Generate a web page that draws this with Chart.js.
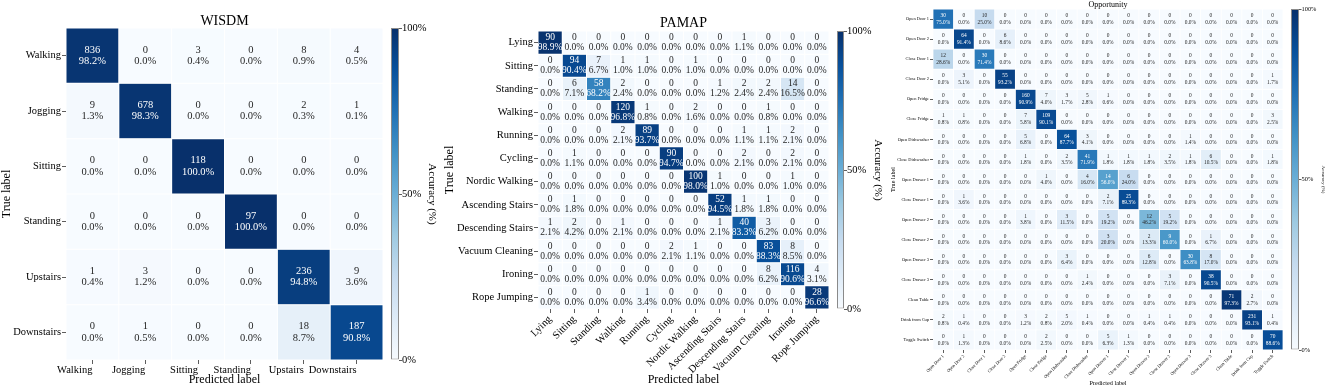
<!DOCTYPE html>
<html>
<head>
<meta charset="utf-8">
<script src="https://cdn.jsdelivr.net/npm/chart.js@4.4.1/dist/chart.umd.min.js"></script>
<style>
  body { margin: 0; background: #fff; width: 1328px; height: 387px; overflow: hidden; position: relative; }
  canvas { position: absolute; top: 0; }
</style>
</head>
<body>
<canvas id="wisdm" width="386" height="387" style="left:0px"></canvas>
<canvas id="wisdmBar" width="54" height="387" style="left:386px"></canvas>
<canvas id="pamap" width="395" height="387" style="left:440px"></canvas>
<canvas id="pamapBar" width="49" height="387" style="left:835px"></canvas>
<canvas id="opp" width="408" height="387" style="left:880px"></canvas>
<canvas id="oppBar" width="40" height="387" style="left:1288px"></canvas>
<script>
// ---- data (confusion matrices, rows = true label, cols = predicted) ----
const wisdmLabels = ["Walking", "Jogging", "Sitting", "Standing", "Upstairs", "Downstairs"];
const wisdmCounts = [
  [836, 0, 3, 0, 8, 4],
  [9, 678, 0, 0, 2, 1],
  [0, 0, 118, 0, 0, 0],
  [0, 0, 0, 97, 0, 0],
  [1, 3, 0, 0, 236, 9],
  [0, 1, 0, 0, 18, 187]
];

const pamapLabels = ["Lying", "Sitting", "Standing", "Walking", "Running", "Cycling", "Nordic Walking",
  "Ascending Stairs", "Descending Stairs", "Vacuum Cleaning", "Ironing", "Rope Jumping"];
const pamapCounts = [
  [90, 0, 0, 0, 0, 0, 0, 0, 1, 0, 0, 0],
  [0, 94, 7, 1, 1, 0, 1, 0, 0, 0, 0, 0],
  [0, 6, 58, 2, 0, 0, 0, 1, 2, 2, 14, 0],
  [0, 0, 0, 120, 1, 0, 2, 0, 0, 1, 0, 0],
  [0, 0, 0, 2, 89, 0, 0, 0, 1, 1, 2, 0],
  [0, 1, 0, 0, 0, 90, 0, 0, 2, 0, 2, 0],
  [0, 0, 0, 0, 0, 0, 100, 1, 0, 0, 1, 0],
  [0, 1, 0, 0, 0, 0, 0, 52, 1, 1, 0, 0],
  [1, 2, 0, 1, 0, 0, 0, 1, 40, 3, 0, 0],
  [0, 0, 0, 0, 0, 2, 1, 0, 0, 83, 8, 0],
  [0, 0, 0, 0, 0, 0, 0, 0, 0, 8, 116, 4],
  [0, 0, 0, 0, 1, 0, 0, 0, 0, 0, 0, 28]
];

const oppLabels = ["Open Door 1", "Open Door 2", "Close Door 1", "Close Door 2", "Open Fridge", "Close Fridge",
  "Open Dishwasher", "Close Dishwasher", "Open Drawer 1", "Close Drawer 1", "Open Drawer 2", "Close Drawer 2",
  "Open Drawer 3", "Close Drawer 3", "Clean Table", "Drink from Cup", "Toggle Switch"];
const oppCounts = [
  [30, 0, 10, 0, 0, 0, 0, 0, 0, 0, 0, 0, 0, 0, 0, 0, 0],
  [0, 64, 0, 6, 0, 0, 0, 0, 0, 0, 0, 0, 0, 0, 0, 0, 0],
  [12, 0, 30, 0, 0, 0, 0, 0, 0, 0, 0, 0, 0, 0, 0, 0, 0],
  [0, 3, 0, 55, 0, 0, 0, 0, 0, 0, 0, 0, 0, 0, 0, 0, 1],
  [0, 0, 0, 0, 160, 7, 3, 5, 1, 0, 0, 0, 0, 0, 0, 0, 0],
  [1, 1, 0, 0, 7, 109, 0, 0, 0, 0, 0, 0, 0, 0, 0, 0, 3],
  [0, 0, 0, 0, 5, 0, 64, 3, 0, 0, 0, 0, 1, 0, 0, 0, 0],
  [0, 0, 0, 0, 1, 0, 2, 41, 1, 1, 1, 2, 1, 6, 0, 0, 1],
  [0, 0, 0, 0, 0, 1, 0, 4, 14, 6, 0, 0, 0, 0, 0, 0, 0],
  [0, 1, 0, 0, 0, 0, 0, 0, 2, 25, 0, 0, 0, 0, 0, 0, 0],
  [0, 0, 0, 0, 1, 0, 3, 0, 5, 0, 12, 5, 0, 0, 0, 0, 0],
  [0, 0, 0, 0, 0, 0, 0, 0, 3, 0, 2, 9, 0, 1, 0, 0, 0],
  [0, 0, 0, 0, 0, 0, 3, 0, 0, 0, 6, 0, 30, 8, 0, 0, 0],
  [0, 0, 0, 0, 0, 0, 0, 1, 0, 0, 0, 3, 0, 38, 0, 0, 0],
  [0, 0, 0, 0, 0, 0, 0, 0, 0, 0, 0, 0, 0, 0, 71, 2, 0],
  [2, 1, 0, 0, 3, 2, 5, 1, 0, 0, 1, 1, 0, 0, 0, 231, 1],
  [0, 1, 0, 0, 0, 2, 0, 0, 5, 1, 0, 0, 0, 0, 0, 0, 70]
];

const colorbarTicks = [0, 50, 100];

// ---- helpers ----
const FONT = "'Liberation Serif', 'Times New Roman', serif";
Chart.defaults.font.family = FONT;
Chart.defaults.color = "#000";

// matplotlib "Blues"
const bluesStops = [[247,251,255],[222,235,247],[198,219,239],[158,202,225],[107,174,214],
  [66,146,198],[33,113,181],[8,81,156],[8,48,107]];
function bluesRGB(t) {
  t = Math.max(0, Math.min(1, t));
  const s = t * 8, i = Math.min(7, Math.floor(s)), f = s - i;
  const a = bluesStops[i], b = bluesStops[i + 1];
  return [0, 1, 2].map(k => a[k] + (b[k] - a[k]) * f);
}
function rgb(c) { return `rgb(${c.map(Math.round).join(",")})`; }

// seaborn picks the annotation colour from the cell luminance
function textColor(c) {
  const lin = c.map(v => { v /= 255; return v <= 0.03928 ? v / 12.92 : Math.pow((v + 0.055) / 1.055, 2.4); });
  const l = 0.2126 * lin[0] + 0.7152 * lin[1] + 0.0722 * lin[2];
  return l > 0.408 ? "rgb(38,38,38)" : "#fff";
}

// python style '.1%' (half to even on exact ties)
function pctText(count, total) {
  const x = count * 1000 / total;
  const f = Math.floor(x);
  let n = x - f === 0.5 ? (f % 2 === 0 ? f : f + 1) : Math.round(x);
  return (n / 10).toFixed(1) + "%";
}

const annotate = {
  id: "annotate",
  afterDatasetsDraw(chart, args, opts) {
    const ctx = chart.ctx;
    ctx.save();
    ctx.font = `${opts.size}px ${FONT}`;
    ctx.textAlign = "center";
    ctx.textBaseline = "middle";
    chart.data.datasets.forEach((ds, i) => {
      chart.getDatasetMeta(i).data.forEach((bar, j) => {
        const p = bar.getCenterPoint();
        ctx.fillStyle = ds.textColors[j];
        ctx.fillText(String(ds.counts[j]), p.x, p.y - opts.gap);
        ctx.fillText(ds.pcts[j], p.x, p.y + opts.gap);
      });
    });
    ctx.restore();
  }
};

function heatmap(id, title, labels, counts, s) {
  const n = labels.length;
  const datasets = counts.map((row, i) => {
    const total = row.reduce((a, b) => a + b, 0);
    const cols = row.map(v => bluesRGB(v / total));
    return {
      label: labels[i],
      data: labels.map(() => 1),
      counts: row,
      pcts: row.map(v => pctText(v, total)),
      textColors: cols.map(textColor),
      backgroundColor: cols.map(rgb),
      borderColor: "rgba(255,255,255,0.9)",
      borderWidth: s.line,
      borderSkipped: false,
      inflateAmount: 0,
      barPercentage: 1,
      categoryPercentage: 1
    };
  });

  new Chart(document.getElementById(id), {
    type: "bar",
    data: { labels: labels, datasets: datasets },
    options: {
      responsive: false,
      animation: false,
      devicePixelRatio: 1,
      events: [],
      layout: { autoPadding: false, padding: { left: 0, right: s.padRight, top: 0, bottom: 0 } },
      plugins: {
        legend: { display: false },
        tooltip: { enabled: false },
        title: {
          display: true, text: title, fullSize: false, color: "#000",
          font: { size: s.titleSize, weight: "normal", lineHeight: 1 },
          padding: { top: s.titleTop, bottom: s.titleBottom }
        },
        annotate: { size: s.cellFont, gap: s.gap }
      },
      scales: {
        x: {
          stacked: true,
          border: { display: false },
          grid: { offset: false, drawOnChartArea: false, tickLength: s.tick, tickWidth: 0.8, tickColor: "#333" },
          ticks: { autoSkip: false, minRotation: s.rot, maxRotation: s.rot, padding: s.tickPad,
            align: s.rot ? "center" : "end",
            font: { size: s.tickFont, lineHeight: 1 }, color: "#000" },
          title: { display: true, text: "Predicted label", color: "#000",
            font: { size: s.labelFont, lineHeight: 1.2 }, padding: { top: 0, bottom: 0 } },
          afterFit(axis) { axis.height = s.xh; }
        },
        y: {
          type: "linear",
          stacked: true,
          reverse: true,
          min: 0,
          max: n,
          border: { display: false },
          grid: { drawOnChartArea: false, tickLength: s.tick, tickWidth: 0.8, tickColor: "#333" },
          afterBuildTicks(axis) { axis.ticks = labels.map((_, i) => ({ value: i + 0.5 })); },
          ticks: { autoSkip: false, padding: s.tickPad, font: { size: s.tickFont, lineHeight: 1 }, color: "#000",
            callback: (v, i) => labels[i] },
          title: { display: true, text: "True label", color: "#000",
            font: { size: s.labelFont, lineHeight: 1.2 }, padding: { top: s.yTitlePad, bottom: 0 } },
          afterFit(axis) { axis.width = s.yw; }
        }
      }
    },
    plugins: [annotate]
  });
}

function colorbar(id, s) {
  new Chart(document.getElementById(id), {
    type: "bar",
    data: {
      labels: [""],
      datasets: [{
        data: [colorbarTicks[colorbarTicks.length - 1]],
        backgroundColor(c) {
          const { ctx, chartArea } = c.chart;
          if (!chartArea) return null;
          const g = ctx.createLinearGradient(0, chartArea.bottom, 0, chartArea.top);
          bluesStops.forEach((st, i) => g.addColorStop(i / 8, rgb(st)));
          return g;
        },
        borderColor: "#8a8a8a",
        borderWidth: 1,
        borderSkipped: false,
        inflateAmount: 0,
        barPercentage: 1,
        categoryPercentage: 1
      }]
    },
    options: {
      responsive: false,
      animation: false,
      devicePixelRatio: 1,
      events: [],
      layout: { autoPadding: false, padding: { left: s.left, right: 0, top: s.top, bottom: s.bottom } },
      plugins: { legend: { display: false }, tooltip: { enabled: false } },
      scales: {
        x: { display: false },
        y: {
          position: "right",
          min: 0,
          max: 100,
          border: { display: false },
          grid: { drawOnChartArea: false, tickLength: s.tick, tickWidth: 0.8, tickColor: "#333" },
          afterBuildTicks(axis) { axis.ticks = colorbarTicks.map(v => ({ value: v })); },
          ticks: { padding: 0, font: { size: s.tickFont, lineHeight: 1 }, color: "#000", callback: v => v + "%" },
          title: { display: true, text: "Accuracy (%)", color: "#000",
            font: { size: s.labelFont, lineHeight: 1.2 }, padding: { top: s.titlePad, bottom: 0 } },
          afterFit(axis) { axis.width = s.w; }
        }
      }
    }
  });
}

// ---- WISDM ----
heatmap("wisdm", "WISDM", wisdmLabels, wisdmCounts, {
  padRight: 3, titleSize: 14, titleTop: 14, titleBottom: 0, yw: 66, xh: 27,
  tick: 4, tickPad: 1, tickFont: 10.5, labelFont: 12, yTitlePad: 0, rot: 0,
  cellFont: 10.5, gap: 5.7, line: 0.5
});
colorbar("wisdmBar", { left: 5, top: 28, bottom: 27, w: 41, tick: 3, tickFont: 10.5, labelFont: 11, titlePad: 1.4 });

// ---- PAMAP ----
heatmap("pamap", "PAMAP", pamapLabels, pamapCounts, {
  padRight: 6, titleSize: 14, titleTop: 16, titleBottom: 1, yw: 98, xh: 78,
  tick: 4, tickPad: 1, tickFont: 10.5, labelFont: 12, yTitlePad: 2.8, rot: 45,
  cellFont: 9.5, gap: 5, line: 0.5
});
colorbar("pamapBar", { left: 2, top: 31, bottom: 78, w: 40, tick: 3, tickFont: 10.5, labelFont: 11, titlePad: 0 });

// ---- Opportunity ----
heatmap("opp", "Opportunity", oppLabels, oppCounts, {
  padRight: 5, titleSize: 8, titleTop: 1, titleBottom: 0, yw: 53, xh: 37,
  tick: 3, tickPad: 1, tickFont: 4.4, labelFont: 6.2, yTitlePad: 9.5, rot: 45,
  cellFont: 5.4, gap: 3.3, line: 0.4
});
colorbar("oppBar", { left: 3, top: 9, bottom: 37, w: 29, tick: 2.5, tickFont: 6.4, labelFont: 5, titlePad: 2 });
</script>
</body>
</html>
